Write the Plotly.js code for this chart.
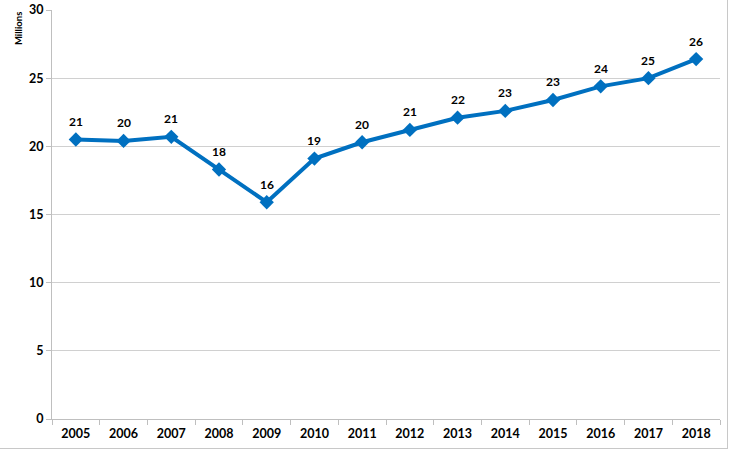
<!DOCTYPE html>
<html><head><meta charset="utf-8">
<script src="https://cdn.plot.ly/plotly-3.0.1.min.js"></script>
<style>
html,body{margin:0;padding:0;background:#fff;}
#frame{position:absolute;left:0;top:0;width:727px;height:448px;border-right:1.5px solid #c8c8c8;border-bottom:1.5px solid #c8c8c8;}
#chart{position:absolute;left:0;top:0;width:740px;height:456px;}
</style></head>
<body>
<div id="frame"></div>
<div id="chart"></div>
<script>
const years = ['2005','2006','2007','2008','2009','2010','2011','2012','2013','2014','2015','2016','2017','2018'];
const values = [20.5, 20.4, 20.7, 18.3, 15.9, 19.1, 20.3, 21.2, 22.1, 22.6, 23.4, 24.4, 25.0, 26.4];
const labels = ['21','20','21','18','16','19','20','21','22','23','23','24','25','26'];
const yTicks = [0,5,10,15,20,25,30];

const fam = 'Lato, "Open Sans", sans-serif';
const bold = (s) => ({family:fam, size:s, color:'#000', weight:'bold'});

const labelAnns = years.map((yr, i) => ({
  x: i, y: values[i], xref:'x', yref:'y', text: labels[i], showarrow:false,
  yshift: 18, font: bold(12)
}));

Plotly.newPlot('chart', [{
  x: years, y: values, type:'scatter', mode:'lines+markers',
  line:{color:'#0070C0', width:4},
  marker:{symbol:'diamond', size:11, color:'#0070C0'},
  hoverinfo:'none', cliponaxis:false
}], {
  width:740, height:456,
  margin:{l:52, r:20, t:10, b:37},
  paper_bgcolor:'rgba(0,0,0,0)', plot_bgcolor:'rgba(0,0,0,0)',
  showlegend:false,
  font: bold(11.5),
  xaxis:{type:'category', range:[-0.5, 13.5], showgrid:false, showline:true, linecolor:'#bfbfbf', linewidth:1,
    ticks:'outside', ticklen:5, tickcolor:'#bfbfbf', tickson:'boundaries', ticklabelstandoff:3,
    tickfont: bold(12.5), fixedrange:true},
  yaxis:{range:[0,30], tickvals:yTicks, showgrid:true, gridcolor:'#d0d0d0', gridwidth:1,
    showline:true, linecolor:'#bfbfbf', linewidth:1, ticks:'outside', ticklen:5, tickcolor:'#bfbfbf',
    zeroline:false, tickfont: bold(12.5), fixedrange:true},
  annotations: labelAnns.concat([{
    text:'Millions', xref:'paper', yref:'paper', x:-0.05, y:1.0, xanchor:'center', yanchor:'top',
    textangle:-90, showarrow:false, font: bold(9.5)
  }])
}, {staticPlot:true});
</script>
</body></html>
